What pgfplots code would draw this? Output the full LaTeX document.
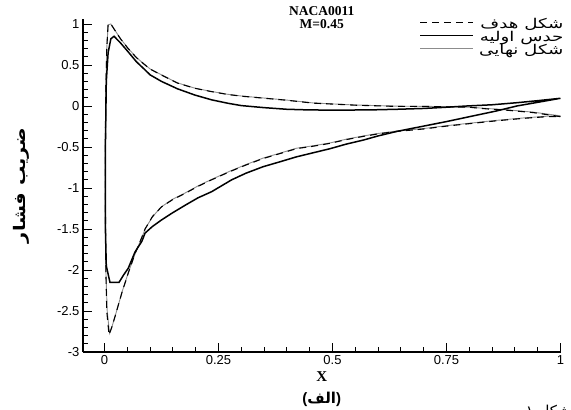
\documentclass[border=0pt]{standalone}
\usepackage{pgfplots}
\usepackage{pgfplotstable}
\pgfplotsset{compat=1.18}
\usepackage{graphicx}
\usepackage{fontspec}
\setmainfont{Liberation Sans}
\newfontfamily\serifb{Liberation Serif}
\newfontfamily\arabicfont[Script=Arabic]{DejaVu Sans}
\TeXXeTstate=1

\pgfplotstableread{
x cp
1.000 -0.13
0.940 -0.08
0.880 -0.05
0.838 -0.035
0.800 -0.015
0.750 -0.010
0.700 -0.005
0.641 -0.005
0.550 0.010
0.458 0.035
0.400 0.070
0.350 0.095
0.300 0.120
0.271 0.140
0.235 0.175
0.198 0.216
0.160 0.280
0.125 0.378
0.100 0.450
0.089 0.500
0.070 0.590
0.052 0.700
0.035 0.820
0.022 0.930
0.014 1.000
0.008 1.000
0.005 0.700
0.003 0.200
0.002 -0.500
0.002 -1.200
0.003 -2.000
0.005 -2.500
0.010 -2.790
0.016 -2.700
0.023 -2.570
0.038 -2.280
0.052 -2.040
0.067 -1.800
0.082 -1.600
0.089 -1.500
0.105 -1.350
0.125 -1.230
0.150 -1.140
0.177 -1.065
0.205 -0.980
0.235 -0.900
0.275 -0.800
0.310 -0.720
0.348 -0.640
0.385 -0.580
0.421 -0.520
0.458 -0.490
0.495 -0.455
0.530 -0.410
0.568 -0.370
0.600 -0.340
0.641 -0.310
0.700 -0.280
0.750 -0.245
0.809 -0.210
0.860 -0.180
0.920 -0.150
0.970 -0.130
1.000 -0.130
}\target

\pgfplotstableread{
x cp
1.000 0.094
0.950 0.065
0.904 0.040
0.850 0.015
0.794 0.000
0.750 -0.015
0.700 -0.030
0.641 -0.040
0.580 -0.048
0.500 -0.050
0.450 -0.048
0.400 -0.040
0.350 -0.020
0.300 0.005
0.271 0.033
0.235 0.075
0.198 0.134
0.160 0.210
0.125 0.300
0.100 0.380
0.089 0.440
0.070 0.540
0.052 0.660
0.035 0.770
0.021 0.850
0.014 0.820
0.008 0.650
0.004 0.300
0.002 -0.500
0.002 -1.500
0.004 -1.950
0.012 -2.150
0.032 -2.150
0.042 -2.060
0.052 -1.980
0.067 -1.780
0.082 -1.650
0.089 -1.550
0.105 -1.470
0.125 -1.390
0.150 -1.300
0.177 -1.210
0.205 -1.120
0.235 -1.045
0.279 -0.900
0.310 -0.820
0.348 -0.740
0.385 -0.680
0.421 -0.620
0.458 -0.570
0.495 -0.520
0.530 -0.465
0.568 -0.415
0.600 -0.365
0.641 -0.310
0.700 -0.245
0.750 -0.190
0.809 -0.120
0.860 -0.060
0.904 0.000
0.950 0.045
1.000 0.094
}\initial

\pgfplotstableread{
x cp
1.000 -0.12
0.940 -0.075
0.880 -0.045
0.838 -0.030
0.800 -0.015
0.750 -0.008
0.700 -0.004
0.641 -0.002
0.550 0.012
0.458 0.037
0.400 0.072
0.350 0.097
0.300 0.122
0.271 0.142
0.235 0.177
0.198 0.218
0.160 0.282
0.125 0.380
0.100 0.452
0.089 0.502
0.070 0.592
0.052 0.702
0.035 0.822
0.022 0.932
0.014 1.000
0.008 0.990
0.005 0.700
0.003 0.200
0.002 -0.500
0.002 -1.200
0.003 -2.000
0.006 -2.500
0.011 -2.770
0.017 -2.680
0.024 -2.550
0.039 -2.260
0.053 -2.020
0.068 -1.790
0.083 -1.590
0.090 -1.490
0.106 -1.345
0.126 -1.225
0.150 -1.135
0.177 -1.060
0.205 -0.975
0.235 -0.895
0.275 -0.795
0.310 -0.715
0.348 -0.635
0.385 -0.575
0.421 -0.515
0.458 -0.485
0.495 -0.450
0.530 -0.405
0.568 -0.365
0.600 -0.335
0.641 -0.305
0.700 -0.275
0.750 -0.240
0.809 -0.205
0.860 -0.175
0.920 -0.145
0.970 -0.125
1.000 -0.120
}\final

\begin{document}
\begin{tikzpicture}
\begin{axis}[
  scale only axis, width=477.5pt, height=333pt,
  xmin=-0.0471, xmax=1, ymin=-3, ymax=1.061,
  axis lines*=left,
  axis line style={line width=1.1pt},
  clip=false,
  xtick={0,0.25,0.5,0.75,1}, xticklabels={0,0.25,0.5,0.75,1},
  ytick={-3,-2.5,-2,-1.5,-1,-0.5,0,0.5,1},
  yticklabels={-3,-2.5,-2,-1.5,-1,-0.5,0,0.5,1},
  minor x tick num=4, minor y tick num=4,
  tick align=inside, major tick length=9pt, minor tick length=5pt,
  every tick/.style={black, line width=0.9pt},
  tick label style={font=\fontsize{13}{13}\selectfont},
  ylabel={\scalebox{1.2}[1]{\beginR ضریب فشار\endR}},
  ylabel style={at={(rel axis cs:-0.128,0.5)}, anchor=center, font=\arabicfont\bfseries\fontsize{16}{16}\selectfont},
  xlabel={X},
  xlabel style={at={(rel axis cs:0.5,0)}, anchor=center, yshift=-25pt, font=\serifb\bfseries\fontsize{15}{15}\selectfont},
  legend style={draw=none, fill=none, at={(rel axis cs:1.017,1.0)}, anchor=north east, inner sep=0pt, row sep=0pt, font=\arabicfont\fontsize{13.5}{13.5}\selectfont, nodes={inner xsep=5pt, inner ysep=0.5pt, text height=8.5pt, text depth=3.5pt}},
  legend cell align=right,
  legend image code/.code={\draw[#1] (0pt,3pt) -- (53pt,3pt);},
]
\addlegendimage{black, line width=1.1pt, dash pattern=on 7pt off 5pt}
\addlegendentry{\scalebox{1.35}[1]{\beginR شکل هدف\endR}}
\addlegendimage{black, line width=1.5pt}
\addlegendentry{\scalebox{1.35}[1]{\beginR حدس اولیه\endR}}
\addlegendimage{black!45, line width=0.9pt}
\addlegendentry{\scalebox{1.35}[1]{\beginR شکل نهایی\endR}}

\addplot[forget plot, black!45, line width=0.9pt] table[x=x, y=cp] {\final};
\addplot[forget plot, black, line width=1.5pt] table[x=x, y=cp] {\initial};
\addplot[forget plot, black, line width=1.1pt, dash pattern=on 7pt off 5pt] table[x=x, y=cp] {\target};

\node[align=center, font=\serifb\bfseries\fontsize{13.5}{13}\selectfont] at (rel axis cs:0.5,1) [yshift=1pt] {NACA0011\\M=0.45};
\node[font=\bfseries\fontsize{15}{15}\selectfont] at (rel axis cs:0.5,0) [yshift=-47pt] {({\arabicfont\beginR الف\endR})};
\end{axis}
\node[anchor=north east, font=\arabicfont\fontsize{15}{15}\selectfont, inner sep=0pt] at ([shift={(488pt,-53pt)}]current axis.south west) {\beginR شکل ۱\endR};
\pgfresetboundingbox
\path (current axis.south west) ++(-83pt,-58pt) rectangle ++(571pt,410pt);
\end{tikzpicture}
\end{document}
